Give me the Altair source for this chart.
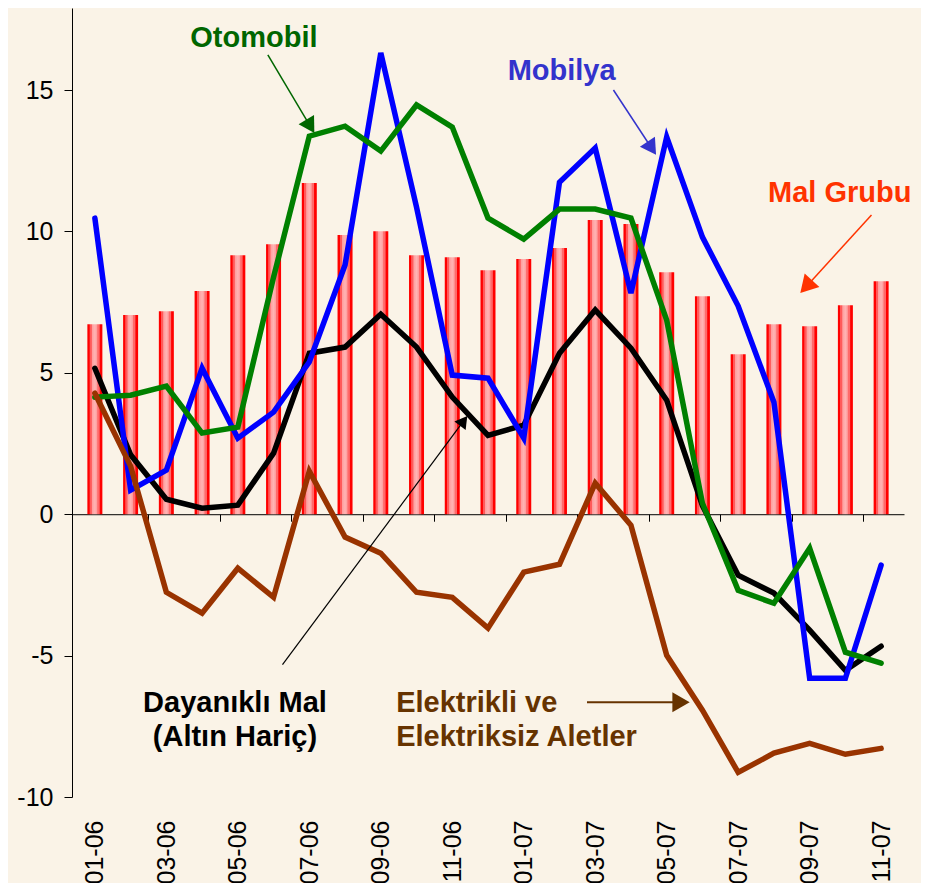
import json
import math
import altair as alt
import pandas as pd

# ---------------- data ----------------
months = ["01-06", "02-06", "03-06", "04-06", "05-06", "06-06", "07-06", "08-06",
          "09-06", "10-06", "11-06", "12-06", "01-07", "02-07", "03-07", "04-07",
          "05-07", "06-07", "07-07", "08-07", "09-07", "10-07", "11-07"]

mal_grubu = [6.72, 7.04, 7.18, 7.89, 9.16, 9.55, 11.71, 9.87, 10.01, 9.16, 9.09, 8.63,
             9.02, 9.41, 10.40, 10.26, 8.56, 7.71, 5.66, 6.72, 6.65, 7.39, 8.24]
mobilya = [10.47, 0.85, 1.56, 5.16, 2.69, 3.61, 5.38, 8.81, 16.31, 10.86, 4.92, 4.81,
           2.69, 11.74, 12.95, 7.82, 13.34, 9.80, 7.36, 3.96, -5.80, -5.80, -1.80]
otomobil = [4.14, 4.21, 4.53, 2.87, 3.08, 8.38, 13.37, 13.72, 12.84, 14.47, 13.69, 10.47,
            9.73, 10.79, 10.79, 10.47, 6.86, 0.39, -2.69, -3.15, -1.20, -4.88, -5.27]
dayanikli = [5.16, 2.10, 0.53, 0.21, 0.32, 2.16, 5.69, 5.91, 7.07, 5.91, 4.14, 2.79,
             3.15, 5.69, 7.22, 5.87, 4.03, 0.30, -2.16, -2.79, -4.10, -5.52, -4.67]
elektrikli = [4.28, 1.70, -2.76, -3.50, -1.91, -2.94, 1.52, -0.81, -1.38, -2.76, -2.94, -4.03,
              -2.05, -1.77, 1.10, -0.39, -4.99, -6.93, -9.13, -8.45, -8.10, -8.49, -8.28]

y_ticks = [-10, -5, 0, 5, 10, 15]

# annotation labels (position in data units: month index, value)
ann_text = ["Otomobil", "Mobilya", "Mal Grubu", "Dayanıklı Mal\n(Altın Hariç)",
            "Elektrikli ve\nElektriksiz Aletler"]
ann_x = [4.45, 13.06, 20.84, 3.92, 8.43]
ann_y = [16.52, 15.35, 11.05, -6.98, -6.98]
ann_color = ["#006600", "#3333CC", "#FF3300", "#000000", "#663300"]
ann_align = ["center", "center", "center", "center", "left"]

# arrows: start (x, y) -> tip (x, y) in data units
arr_x0 = [4.84, 14.51, 21.73, 5.25, 13.77]
arr_y0 = [16.24, 15.00, 10.58, -5.32, -6.65]
arr_x1 = [6.14, 15.70, 19.74, 10.42, 16.64]
arr_y1 = [13.48, 12.71, 7.82, 3.47, -6.65]
arr_color = ["#006600", "#3333CC", "#FF3300", "#000000", "#663300"]
arr_head = [18, 18, 20, 14, 20]
arr_width = [1.5, 1.5, 1.5, 1.2, 2.0]

# ---------------- layout ----------------
W, H = 832, 789
X_DOMAIN = [-0.5, 22.5]
Y_DOMAIN = [-10, 17.9]
px_x = W / (X_DOMAIN[1] - X_DOMAIN[0])
px_y = H / (Y_DOMAIN[1] - Y_DOMAIN[0])
FONT = "Liberation Sans"
BG = "#FAF3E7"

xs = alt.Scale(domain=X_DOMAIN, nice=False, zero=False)
ys = alt.Scale(domain=Y_DOMAIN, nice=False, zero=False)

Y_AXIS = alt.Axis(values=y_ticks, labelExpr="datum.value + ''", tickSize=8, tickColor="black",
                  tickWidth=1, labelPadding=11, labelFontSize=25, labelFont=FONT,
                  labelColor="black", domainColor="black", domainWidth=1, title=None,
                  grid=False)

idx = list(range(len(months)))

# --- bars ---
bars_df = pd.DataFrame({"i": idx, "v": mal_grubu})
grad = alt.Gradient(
    gradient="linear", x1=0, x2=1, y1=0, y2=0,
    stops=[
        alt.GradientStop(color="#FF0000", offset=0.0),
        alt.GradientStop(color="#FF0000", offset=0.13),
        alt.GradientStop(color="#FF5A5A", offset=0.17),
        alt.GradientStop(color="#FF5A5A", offset=0.27),
        alt.GradientStop(color="#FF9E9E", offset=0.32),
        alt.GradientStop(color="#FFB4B4", offset=0.5),
        alt.GradientStop(color="#FF9E9E", offset=0.63),
        alt.GradientStop(color="#FF6A6A", offset=0.69),
        alt.GradientStop(color="#FF6A6A", offset=0.79),
        alt.GradientStop(color="#FF0000", offset=0.85),
        alt.GradientStop(color="#FF0000", offset=1.0),
    ],
)
label_expr = json.dumps(months) + "[datum.value]"
bars = alt.Chart(bars_df).mark_bar(size=15, color=grad).encode(
    x=alt.X("i:Q", scale=xs, axis=alt.Axis(
        orient="bottom", values=list(range(0, 23, 2)), labelExpr=label_expr,
        ticks=False, tickSize=0, domain=False, labelAngle=-90, labelAlign="right",
        labelBaseline="middle", labelPadding=23, labelFontSize=25, labelFont=FONT,
        labelColor="black", labelOverlap=False, labelFlush=False, title=None, grid=False)),
    y=alt.Y("v:Q", scale=ys, axis=Y_AXIS),
    y2=alt.datum(0),
)

# --- lines ---
series = [
    ("Dayanıklı Mal", dayanikli, "#000000"),
    ("Mobilya", mobilya, "#0000FF"),
    ("Otomobil", otomobil, "#008000"),
    ("Elektrikli", elektrikli, "#993300"),
]
zero_offset = -(0 - Y_DOMAIN[0]) * px_y
line_layers = []
for k, (name, vals, col) in enumerate(series):
    df = pd.DataFrame({"i": idx, "v": vals})
    if k == 0:
        xaxis = alt.Axis(orient="bottom", offset=zero_offset,
                         values=[v + 0.5 for v in range(1, 22, 2)], labels=False,
                         ticks=True, tickSize=7, tickColor="black", tickWidth=1,
                         domain=True, domainColor="black", domainWidth=1,
                         title=None, grid=False)
    else:
        xaxis = None
    line_layers.append(
        alt.Chart(df).mark_line(color=col, strokeWidth=5.5, strokeCap="round",
                                strokeJoin="miter").encode(
            x=alt.X("i:Q", scale=xs, axis=xaxis),
            y=alt.Y("v:Q", scale=ys, axis=Y_AXIS),
        )
    )

# --- annotation text ---
ann_df = pd.DataFrame({"t": ann_text, "x": ann_x, "y": ann_y, "c": ann_color, "a": ann_align})
text_layers = []
for al in ["center", "left"]:
    sub = ann_df[ann_df["a"] == al]
    text_layers.append(
        alt.Chart(sub).mark_text(align=al, baseline="alphabetic", font=FONT,
                                 fontSize=29, fontWeight="bold", lineBreak="\n",
                                 lineHeight=34).encode(
            x=alt.X("x:Q", scale=xs, axis=None),
            y=alt.Y("y:Q", scale=ys, axis=Y_AXIS),
            text="t:N",
            color=alt.Color("c:N", scale=None),
        )
    )

# --- arrows ---
rows = []
for x0, y0, x1, y1, col, hs, sw in zip(arr_x0, arr_y0, arr_x1, arr_y1, arr_color, arr_head, arr_width):
    dxp = (x1 - x0) * px_x
    dyp = -(y1 - y0) * px_y
    L = math.hypot(dxp, dyp)
    ux, uy = dxp / L, dyp / L
    h = hs * math.sqrt(3) / 2
    cx = x1 - ux * (h / 2) / px_x
    cy = y1 + uy * (h / 2) / px_y
    ang = math.degrees(math.atan2(ux, -uy)) % 360
    rows.append({"x0": x0, "y0": y0, "cx": cx, "cy": cy, "c": col,
                 "size": hs * hs, "ang": ang, "sw": sw})
arr_df = pd.DataFrame(rows)

arrow_lines = alt.Chart(arr_df).mark_rule().encode(
    x=alt.X("x0:Q", scale=xs, axis=None),
    y=alt.Y("y0:Q", scale=ys, axis=Y_AXIS),
    x2="cx:Q",
    y2="cy:Q",
    color=alt.Color("c:N", scale=None),
    strokeWidth=alt.StrokeWidth("sw:Q", scale=None),
)
arrow_heads = alt.Chart(arr_df).mark_point(shape="triangle-up", filled=True, opacity=1,
                                           strokeWidth=0).encode(
    x=alt.X("cx:Q", scale=xs, axis=None),
    y=alt.Y("cy:Q", scale=ys, axis=Y_AXIS),
    color=alt.Color("c:N", scale=None),
    size=alt.Size("size:Q", scale=None),
    angle=alt.Angle("ang:Q", scale=None),
)

chart = alt.layer(bars, *line_layers, *text_layers, arrow_lines, arrow_heads).resolve_axis(
    x="independent", y="shared"
).properties(
    width=W, height=H, background=BG,
    padding={"left": 64, "top": 0, "right": 17, "bottom": 86},
    autosize=alt.AutoSizeParams(type="none"),
).configure_view(stroke=None)

chart.save("out.html", embed_options={"renderer": "svg", "actions": False})
